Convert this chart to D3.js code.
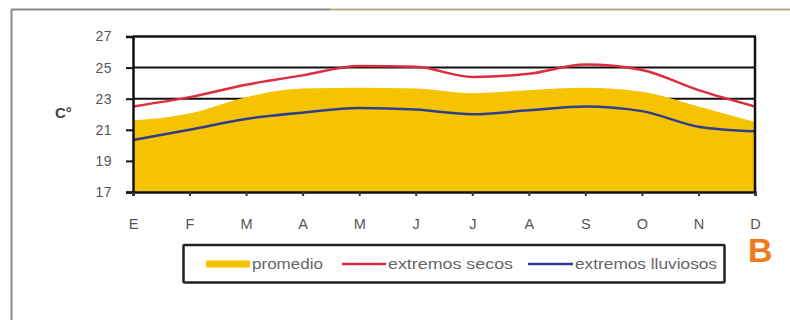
<!DOCTYPE html>
<html><head><meta charset="utf-8">
<script src="https://cdn.jsdelivr.net/npm/d3@7"></script>
<style>body{margin:0;background:#fff}svg{display:block;font-family:"Liberation Sans",Arial,sans-serif}</style>
</head><body><svg id="c" width="790" height="320"></svg>
<script>
const months = ["E","F","M","A","M","J","J","A","S","O","N","D"];
const promedio = [21.6,22.05,23.1,23.65,23.7,23.65,23.35,23.55,23.7,23.45,22.5,21.5];
const secos = [22.5,23.1,23.9,24.5,25.1,25.05,24.4,24.6,25.2,24.85,23.55,22.5];
const lluviosos = [20.35,21.0,21.7,22.1,22.4,22.3,22.0,22.25,22.5,22.2,21.2,20.9];
const yTicks = [17,19,21,23,25,27];
const legendLabels = ["promedio","extremos secos","extremos lluviosos"];
const colors = {promedio:"#f5c300", secos:"#dc2c3e", lluviosos:"#2f3d8f"};

const svg = d3.select("#c");
// outer frame
svg.append("line").attr("x1",11).attr("x2",330).attr("y1",9.5).attr("y2",9.5).attr("stroke","#8a8a8a").attr("stroke-width",2);
svg.append("line").attr("x1",330).attr("x2",790).attr("y1",9.5).attr("y2",9.5).attr("stroke","#b5ad88").attr("stroke-width",2);
svg.append("line").attr("x1",11.5).attr("x2",11.5).attr("y1",9).attr("y2",320).attr("stroke","#8a8a8a").attr("stroke-width",2);

const x = d3.scalePoint().domain(d3.range(12)).range([133,755]);
const y = d3.scaleLinear().domain([17,27]).range([192,36.5]);

const g = svg.append("g");
// gridlines
g.selectAll("line.grid").data(yTicks.filter(t=>t>17&&t<27)).join("line")
  .attr("x1",133).attr("x2",755).attr("y1",d=>y(d)).attr("y2",d=>y(d))
  .attr("stroke","#111").attr("stroke-width",2);

const curve = d3.curveMonotoneX;
g.append("path").datum(promedio)
  .attr("d", d3.area().x((d,i)=>x(i)).y0(y(17)).y1(d=>y(d)).curve(curve))
  .attr("fill",colors.promedio);
g.append("path").datum(secos)
  .attr("d", d3.line().x((d,i)=>x(i)).y(d=>y(d)).curve(curve))
  .attr("fill","none").attr("stroke",colors.secos).attr("stroke-width",2.5);
g.append("path").datum(lluviosos)
  .attr("d", d3.line().x((d,i)=>x(i)).y(d=>y(d)).curve(curve))
  .attr("fill","none").attr("stroke",colors.lluviosos).attr("stroke-width",2.5);

// frame top & right
g.append("line").attr("x1",133).attr("x2",756).attr("y1",y(27)).attr("y2",y(27)).attr("stroke","#111").attr("stroke-width",2.5);
g.append("line").attr("x1",755).attr("x2",755).attr("y1",y(27)).attr("y2",y(17)).attr("stroke","#111").attr("stroke-width",2.5);

// y axis
const ya = g.append("g").attr("transform","translate(133,0)")
  .call(d3.axisLeft(y).tickValues(yTicks).tickSize(7).tickPadding(14));
ya.select(".domain").attr("stroke","#111").attr("stroke-width",2.5);
ya.selectAll(".tick line").attr("stroke","#111").attr("stroke-width",2);
ya.selectAll("text").attr("font-size",14).attr("fill","#555").attr("letter-spacing",0.5).attr("font-family","Liberation Sans, Arial, sans-serif");

// x axis
const xa = g.append("g").attr("transform",`translate(0,${y(17)})`)
  .call(d3.axisBottom(x).tickFormat(i=>months[i]).tickSize(4).tickPadding(23));
xa.select(".domain").attr("stroke","#111").attr("stroke-width",2.5);
xa.selectAll(".tick line").attr("stroke","#333").attr("stroke-width",2);
xa.selectAll("text").attr("font-size",14.5).attr("fill","#555").attr("font-family","Liberation Sans, Arial, sans-serif");

svg.append("text").attr("x",55).attr("y",118).attr("font-size",15).attr("font-weight","bold").attr("fill","#444").text("C°");

// legend
svg.append("rect").attr("x",183.5).attr("y",245).attr("width",541).attr("height",37.5).attr("fill","#fff").attr("stroke","#222").attr("stroke-width",2.5).attr("rx",1);
const leg = [
  {x:206,w:44,c:colors.promedio,sw:7,t:legendLabels[0],tl:71},
  {x:342,w:44,c:colors.secos,sw:2.5,t:legendLabels[1],tl:125},
  {x:528,w:45,c:colors.lluviosos,sw:2.5,t:legendLabels[2],tl:142}
];
leg.forEach(d=>{
  svg.append("line").attr("x1",d.x).attr("x2",d.x+d.w).attr("y1",264).attr("y2",264).attr("stroke",d.c).attr("stroke-width",d.sw);
  svg.append("text").attr("x",d.x+d.w+2).attr("y",269).attr("font-size",14).attr("fill","#666")
    .attr("textLength",d.tl).attr("lengthAdjust","spacingAndGlyphs").text(d.t);
});

svg.append("text").attr("x",748).attr("y",262).attr("font-size",34).attr("font-weight","bold").attr("fill","#f07a1c").text("B");
</script></body></html>
